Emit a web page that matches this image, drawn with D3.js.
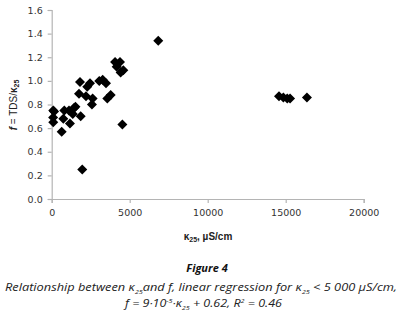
<!DOCTYPE html>
<html><head><meta charset="utf-8">
<script src="https://cdn.jsdelivr.net/npm/d3@7"></script>
<style>body{margin:0;background:#fff;} svg{display:block;}</style>
</head><body>
<svg id="c" width="400" height="324"></svg>
<script>
const kappa = [100, 150, 90, 100, 640, 810, 745, 1170, 1110, 1350, 1430, 1520, 1860, 1960, 1815, 1750, 2200, 2280, 2455, 2625, 2580, 3050, 3270, 3480, 3565, 3780, 4060, 4165, 4380, 4420, 4590, 4530, 6830, 14570, 14850, 15100, 15280, 16360];
const fvals = [0.75, 0.74, 0.69, 0.65, 0.57, 0.75, 0.68, 0.64, 0.75, 0.72, 0.77, 0.78, 0.70, 0.25, 0.99, 0.89, 0.87, 0.95, 0.98, 0.85, 0.80, 1.00, 1.01, 0.98, 0.85, 0.88, 1.16, 1.12, 1.16, 1.07, 1.09, 0.63, 1.34, 0.87, 0.86, 0.85, 0.85, 0.86];
const xTicks = [0, 5000, 10000, 15000, 20000];
const yTicks = [0, 0.2, 0.4, 0.6, 0.8, 1.0, 1.2, 1.4, 1.6];

const svg = d3.select("#c");
const x = d3.scaleLinear().domain([0, 20000]).range([51.7, 363.7]);
const y = d3.scaleLinear().domain([0, 1.6]).range([199, 10]);

const xa = svg.append("g").attr("transform", "translate(0,199)")
  .call(d3.axisBottom(x).tickValues(xTicks).tickSize(4).tickSizeOuter(4).tickPadding(6).tickFormat(d3.format("d")));
const ya = svg.append("g").attr("transform", "translate(51.7,0)")
  .call(d3.axisLeft(y).tickValues(yTicks).tickSize(4).tickSizeOuter(4).tickPadding(5).tickFormat(d3.format(".1f")));
[xa, ya].forEach(a => {
  a.selectAll("path,line").attr("stroke", "#b4b4b4").attr("stroke-width", 1.2);
  a.selectAll("text").attr("fill", "#333").style("font-family", "DejaVu Sans, sans-serif").style("font-size", "9.5px");
});

const diamond = "M0,-5L5,0L0,5L-5,0Z";
svg.append("g").selectAll("path").data(kappa).join("path")
  .attr("d", diamond)
  .attr("transform", (d, i) => `translate(${x(d)},${y(fvals[i])})`)
  .attr("fill", "#000");

// axis titles
const xt = svg.append("text").attr("x", 208).attr("y", 240).attr("text-anchor", "middle")
  .style("font-family", "Liberation Sans, sans-serif").style("font-size", "10px").style("font-weight", "bold").attr("fill", "#222");
xt.append("tspan").text("κ");
xt.append("tspan").text("25").attr("font-size", "7px").attr("dy", 2);
xt.append("tspan").text(", µS/cm").attr("dy", -2);

const yt = svg.append("text").attr("transform", "translate(17,105) rotate(-90)").attr("text-anchor", "middle")
  .style("font-family", "Liberation Sans, sans-serif").style("font-size", "10px").attr("fill", "#222");
yt.append("tspan").text("f").style("font-style", "italic").style("font-weight", "bold");
yt.append("tspan").text(" = TDS/");
yt.append("tspan").text("κ").style("font-weight", "bold");
yt.append("tspan").text("25").attr("font-size", "7px").attr("dy", 2).style("font-weight", "bold");

// caption
const capFont = "Open Sans, sans-serif";
svg.append("text").attr("x", 207).attr("y", 272).attr("text-anchor", "middle")
  .style("font-family", capFont).style("font-size", "11px").style("font-weight", "bold").style("font-style", "italic")
  .attr("fill", "#111").text("Figure 4");

const c1 = svg.append("text").attr("x", 201).attr("y", 291).attr("text-anchor", "middle")
  .style("font-family", capFont).style("font-size", "10.5px").style("font-style", "italic").attr("fill", "#222");
c1.append("tspan").text("Relationship between κ");
c1.append("tspan").text("25").attr("font-size", "6px").attr("dy", 3);
c1.append("tspan").text("and f, linear regression for κ").attr("dy", -3);
c1.append("tspan").text("25").attr("font-size", "6px").attr("dy", 3);
c1.append("tspan").text(" < 5 000 µS/cm,").attr("dy", -3);
c1.attr("textLength", 392).attr("lengthAdjust", "spacingAndGlyphs");

const c2 = svg.append("text").attr("x", 203.5).attr("y", 307).attr("text-anchor", "middle")
  .style("font-family", capFont).style("font-size", "10.5px").style("font-style", "italic").attr("fill", "#222");
c2.append("tspan").text("f = 9·10");
c2.append("tspan").text("-5").attr("font-size", "6px").attr("dy", -4);
c2.append("tspan").text("·κ").attr("dy", 4);
c2.append("tspan").text("25").attr("font-size", "6px").attr("dy", 3);
c2.append("tspan").text(" + 0.62, R").attr("dy", -3);
c2.append("tspan").text("2").attr("font-size", "6px").attr("dy", -4);
c2.append("tspan").text(" = 0.46").attr("dy", 4);
c2.attr("textLength", 157).attr("lengthAdjust", "spacingAndGlyphs");
</script>
</body></html>
